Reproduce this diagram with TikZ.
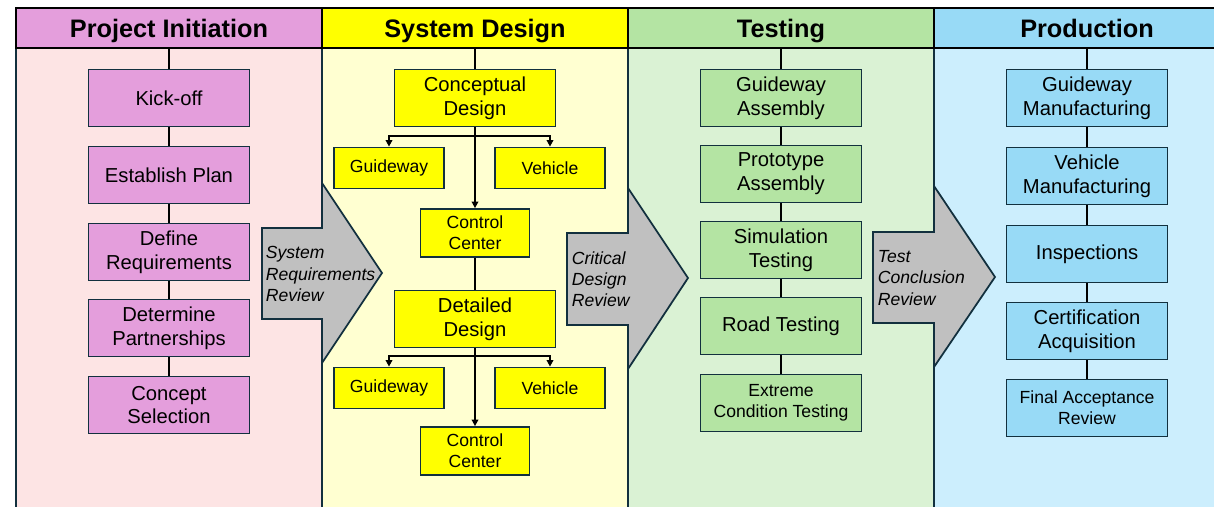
\documentclass[tikz,border=0pt]{standalone}
\usepackage{fontspec}
\setmainfont{Liberation Sans}
\usepackage{xcolor}
\usepackage{tikz}
\usetikzlibrary{positioning}
\usetikzlibrary{arrows.meta}

\definecolor{edge}{HTML}{12303E}
\definecolor{pinkhead}{HTML}{E49EDC}
\definecolor{pinklane}{HTML}{FDE4E4}
\definecolor{yelhead}{HTML}{FFFF00}
\definecolor{yellane}{HTML}{FFFFD1}
\definecolor{grnhead}{HTML}{B4E4A3}
\definecolor{grnlane}{HTML}{DAF2D4}
\definecolor{bluhead}{HTML}{98DAF6}
\definecolor{blulane}{HTML}{CCEEFD}
\definecolor{gatefill}{HTML}{C0C0C0}

\begin{document}
\begin{tikzpicture}[
  x=0.02cm, y=-0.02cm,
  line width=1pt,
  font=\fontsize{11.5}{13.6}\selectfont
]
\tikzset{
    lanehead/.style = {rectangle, draw=black, line width=1.6pt, minimum width=6.12cm, minimum height=0.8cm, text height=10.4pt, text depth=0pt, font=\fontsize{14.4}{16}\selectfont\bfseries},
    phasebox/.style = {rectangle, draw=edge, align=center, minimum width=3.22cm, minimum height=1.14cm, inner sep=1pt},
    smallbox/.style = {rectangle, draw=edge, align=center, fill=yelhead, minimum width=2.2cm, minimum height=0.82cm, inner sep=1pt, font=\fontsize{10}{12}\selectfont},
    gatelabel/.style = {anchor=west, align=left, inner sep=0pt, font=\fontsize{10}{12}\selectfont\itshape},
    forkarrow/.style = {-{Triangle[length=1.3mm,width=1.3mm]}},
}
\useasboundingbox (0,0) rectangle (1214,507);
\fill[white] (0,0) rectangle (1214,507);

% lanes
\filldraw[fill=pinklane, draw=edge] (16,48) rectangle (322,520);
\filldraw[fill=yellane, draw=edge] (322,48) rectangle (628,520);
\filldraw[fill=grnlane, draw=edge] (628,48) rectangle (934,520);
\filldraw[fill=blulane, draw=edge] (934,48) rectangle (1240,520);

\node[lanehead, fill=pinkhead] (hdinit) at (169,28) {Project Initiation};
\node[lanehead, fill=yelhead] (hddesign) at (475,28) {System Design};
\node[lanehead, fill=grnhead] (hdtest) at (781,28) {Testing};
\node[lanehead, fill=bluhead] (hdprod) at (1087,28) {Production};

% review gates
\filldraw[fill=gatefill, draw=edge] (262,228) -- (322,228) -- (322,183) -- (382,273) -- (322,363) -- (322,319) -- (262,319) -- cycle;
\node[gatelabel] (srr) at (265,274) {System\\Requirements\\Review};
\filldraw[fill=gatefill, draw=edge] (567,233) -- (628,233) -- (628,188) -- (688,278) -- (628,369) -- (628,325) -- (567,325) -- cycle;
\node[gatelabel] (cdr) at (571,279) {Critical\\Design\\Review};
\filldraw[fill=gatefill, draw=edge] (873,232) -- (934,232) -- (934,186) -- (995,277) -- (934,367) -- (934,323) -- (873,323) -- cycle;
\node[gatelabel] (tcr) at (877,278) {Test\\Conclusion\\Review};

% project initiation
\node[phasebox, fill=pinkhead] (kick) at (169,98) {Kick-off};
\node[phasebox, fill=pinkhead] (plan) at (169,175) {Establish Plan};
\node[phasebox, fill=pinkhead] (reqs) at (169,252) {Define\\Requirements};
\node[phasebox, fill=pinkhead] (partn) at (169,328) {Determine\\Partnerships};
\node[phasebox, fill=pinkhead] (concsel) at (169,405) {Concept\\Selection};
\draw (hdinit.south) -- (kick.north);
\draw (kick) -- (plan);
\draw (plan) -- (reqs);
\draw (reqs) -- (partn);
\draw (partn) -- (concsel);

% system design
\node[phasebox, fill=yelhead] (concept) at (475,98) {Conceptual\\Design};
\node[smallbox] (guideA) at (389,168) {Guideway};
\node[smallbox] (vehA) at (550,168) {Vehicle};
\node[smallbox, minimum width=2.18cm, minimum height=0.96cm] (ctrlA) at (475,233) {Control\\Center};
\node[phasebox, fill=yelhead] (detail) at (475,319) {Detailed\\Design};
\node[smallbox] (guideB) at (389,388) {Guideway};
\node[smallbox] (vehB) at (550,388) {Vehicle};
\node[smallbox, minimum width=2.18cm, minimum height=0.96cm] (ctrlB) at (475,451) {Control\\Center};
\coordinate (forkA) at (475,136);
\coordinate (forkB) at (475,356);
\draw (hddesign.south) -- (concept.north);
\draw[forkarrow] (concept.south) -- (ctrlA.north);
\draw[forkarrow] (forkA) -| (guideA.north);
\draw[forkarrow] (forkA) -| (vehA.north);
\draw (ctrlA.south) -- (detail.north);
\draw[forkarrow] (detail.south) -- (ctrlB.north);
\draw[forkarrow] (forkB) -| (guideB.north);
\draw[forkarrow] (forkB) -| (vehB.north);

% testing
\node[phasebox, fill=grnhead] (gwasm) at (781,98) {Guideway\\Assembly};
\node[phasebox, fill=grnhead] (proto) at (781,174) {Prototype\\Assembly};
\node[phasebox, fill=grnhead] (simtest) at (781,250) {Simulation\\Testing};
\node[phasebox, fill=grnhead] (road) at (781,326) {Road Testing};
\node[phasebox, fill=grnhead, font=\fontsize{10}{12}\selectfont] (extreme) at (781,403) {Extreme\\Condition Testing};
\draw (hdtest.south) -- (gwasm.north);
\draw (gwasm) -- (proto);
\draw (proto) -- (simtest);
\draw (simtest) -- (road);
\draw (road) -- (extreme);

% production
\node[phasebox, fill=bluhead] (gwman) at (1087,98) {Guideway\\Manufacturing};
\node[phasebox, fill=bluhead] (vehman) at (1087,176) {Vehicle\\Manufacturing};
\node[phasebox, fill=bluhead] (insp) at (1087,254) {Inspections};
\node[phasebox, fill=bluhead] (cert) at (1087,331) {Certification\\Acquisition};
\node[phasebox, fill=bluhead, font=\fontsize{10}{12}\selectfont] (finalrev) at (1087,408) {Final Acceptance\\Review};
\draw (hdprod.south) -- (gwman.north);
\draw (gwman) -- (vehman);
\draw (vehman) -- (insp);
\draw (insp) -- (cert);
\draw (cert) -- (finalrev);
\end{tikzpicture}
\end{document}
